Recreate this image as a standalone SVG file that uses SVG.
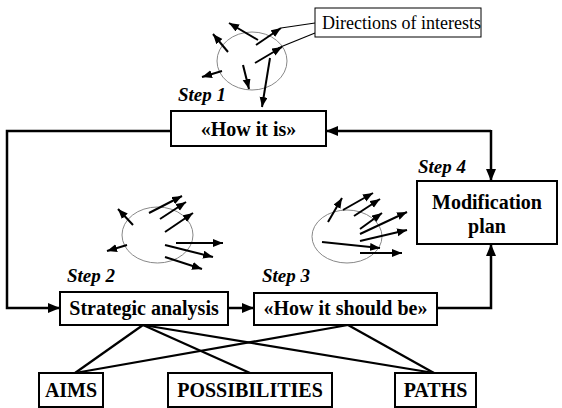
<svg xmlns="http://www.w3.org/2000/svg" width="562" height="408" viewBox="0 0 562 408">
<style>
.box{fill:#fff;stroke:#000;stroke-width:2}
.t{font-weight:bold;font-size:20px;text-anchor:middle;fill:#000}
.step{font-weight:bold;font-style:italic;font-size:19px;fill:#000}
.dir{font-size:18px;fill:#000}
.conn{fill:none;stroke:#000;stroke-width:2.5}
.link{fill:none;stroke:#000;stroke-width:2.2}
.ell{fill:none;stroke:#888;stroke-width:1}
.sa{stroke:#000;stroke-width:2;marker-end:url(#sm)}
.thin{stroke:#000;stroke-width:1.2}
</style>
<defs>
<marker id="big" markerUnits="userSpaceOnUse" markerWidth="13" markerHeight="11" refX="12" refY="5" orient="auto"><path d="M0,0 L12,5 L0,10 z" fill="#000"/></marker>
<marker id="sm" markerUnits="userSpaceOnUse" markerWidth="11" markerHeight="9" refX="10" refY="4" orient="auto"><path d="M0,0 L10,4 L0,8 z" fill="#000"/></marker>
</defs>

<g id="connectors">
<polyline class="conn" points="171,131 7,131 7,308 60,308" marker-end="url(#big)"/>
<line class="conn" x1="491" y1="131" x2="326" y2="131" marker-end="url(#big)"/>
<line class="conn" x1="491" y1="130" x2="491" y2="181" marker-end="url(#big)"/>
<line class="conn" x1="228" y1="308" x2="254" y2="308" marker-end="url(#big)"/>
<polyline class="conn" points="437,308 491,308 491,244" marker-end="url(#big)"/>
<line class="link" x1="143" y1="325" x2="75" y2="373"/>
<line class="link" x1="143" y1="325" x2="250" y2="373"/>
<line class="link" x1="143" y1="325" x2="434" y2="373"/>
<line class="link" x1="348" y1="325" x2="75" y2="373"/>
<line class="link" x1="348" y1="325" x2="434" y2="373"/>
</g>

<g font-family="Liberation Serif, DejaVu Serif, serif">

<g id="interests1">
<ellipse class="ell" cx="252" cy="61" rx="35" ry="29"/>
<line class="sa" x1="228" y1="52" x2="213" y2="34"/>
<line class="sa" x1="258" y1="40" x2="229" y2="23"/>
<line class="sa" x1="256" y1="45" x2="281" y2="28"/>
<line class="sa" x1="255" y1="63" x2="282" y2="47"/>
<line class="sa" x1="222" y1="71" x2="202" y2="77"/>
<line class="sa" x1="243" y1="65" x2="249" y2="89"/>
<line class="sa" x1="270" y1="58" x2="262" y2="107"/>
<line class="thin" x1="315" y1="23" x2="281" y2="28"/>
<line class="thin" x1="315" y1="33" x2="278" y2="48"/>
</g>

<g id="directions">
<rect class="box" x="315" y="8" width="166" height="29" style="stroke-width:1"/>
<text class="dir" x="322" y="29">Directions of interests</text>
</g>

<g id="interests2">
<ellipse class="ell" cx="157.5" cy="235" rx="35.5" ry="28"/>
<line class="sa" x1="133" y1="225" x2="118" y2="209"/>
<line class="sa" x1="127" y1="245" x2="107" y2="251"/>
<line class="sa" x1="149" y1="213" x2="182" y2="196"/>
<line class="sa" x1="160" y1="219" x2="186" y2="202"/>
<line class="sa" x1="165" y1="232" x2="193" y2="213"/>
<line class="sa" x1="176" y1="243" x2="223" y2="243"/>
<line class="sa" x1="165" y1="245" x2="213" y2="257"/>
<line class="sa" x1="165" y1="257" x2="202" y2="269"/>
</g>

<g id="interests3">
<ellipse class="ell" cx="347" cy="236.5" rx="35" ry="26.5"/>
<line class="sa" x1="328" y1="222" x2="342" y2="198"/>
<line class="sa" x1="343" y1="210" x2="373" y2="193"/>
<line class="sa" x1="354" y1="216" x2="380" y2="199"/>
<line class="sa" x1="360" y1="229" x2="382" y2="213"/>
<line class="sa" x1="360" y1="234" x2="407" y2="212"/>
<line class="sa" x1="360" y1="241" x2="407" y2="230"/>
<line class="sa" x1="322" y1="242" x2="380" y2="248"/>
<line class="sa" x1="360" y1="253" x2="402" y2="253"/>
</g>

<g id="how-it-is">
<rect class="box" x="171" y="111" width="155" height="35"/>
<text class="t" x="248.5" y="136">«How it is»</text>
<text class="step" x="178" y="101">Step 1</text>
</g>

<g id="strategic-analysis">
<rect class="box" x="60" y="292" width="168" height="33"/>
<text class="t" x="144" y="315">Strategic analysis</text>
<text class="step" x="67" y="282">Step 2</text>
</g>

<g id="how-it-should-be">
<rect class="box" x="254" y="293" width="183" height="32"/>
<text class="t" x="345.5" y="315">«How it should be»</text>
<text class="step" x="262" y="282">Step 3</text>
</g>

<g id="modification-plan">
<rect class="box" x="417" y="181" width="140" height="63"/>
<text class="t" x="487" y="209">Modification</text>
<text class="t" x="487" y="233">plan</text>
<text class="step" x="418" y="173">Step 4</text>
</g>

<g id="aims">
<rect class="box" x="39" y="373" width="64" height="34"/>
<text class="t" x="71" y="397">AIMS</text>
</g>

<g id="possibilities">
<rect class="box" x="168" y="373" width="164" height="34"/>
<text class="t" x="250" y="397">POSSIBILITIES</text>
</g>

<g id="paths">
<rect class="box" x="395" y="373" width="81" height="34"/>
<text class="t" x="435.5" y="397">PATHS</text>
</g>

</g>
</svg>
